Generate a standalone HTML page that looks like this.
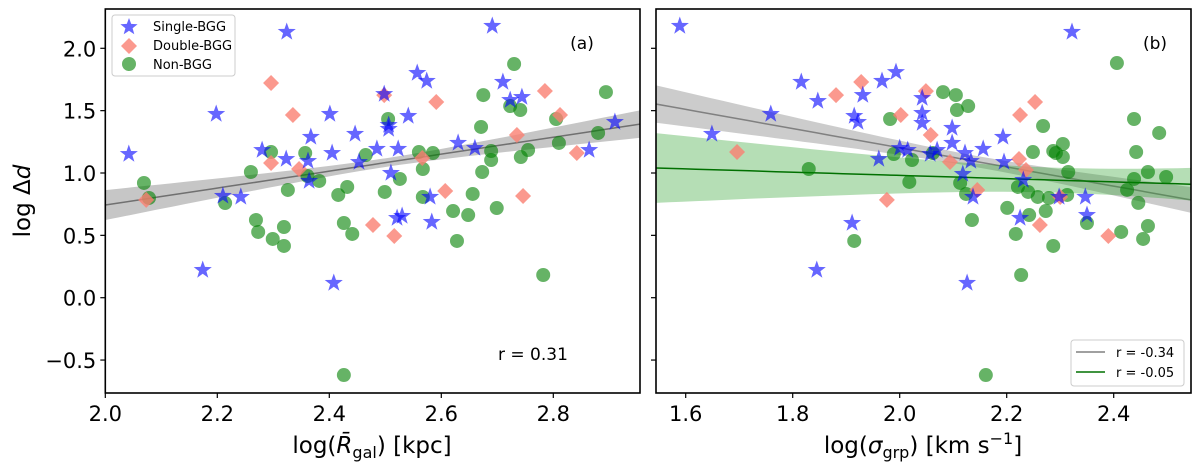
<!DOCTYPE html>
<html><head><meta charset="utf-8"><style>
body{margin:0;background:#fff}
svg{display:block;font-family:"DejaVu Sans","Liberation Sans",sans-serif}
</style></head><body>
<svg id="fig" width="1200" height="472" viewBox="0 0 1200 472" xmlns="http://www.w3.org/2000/svg"></svg>
<script>
// Panel (a) data
const aStarX=[2.042,2.198,2.324,2.401,2.367,2.280,2.323,2.362,2.405,2.364,2.210,2.242,2.174,2.408,2.691,2.557,2.574,2.498,2.541,2.446,2.506,2.506,2.485,2.523,2.453,2.510,2.630,2.660,2.710,2.723,2.744,2.910,2.864,2.580,2.521,2.530,2.583];
const aStarY=[1.152,1.473,2.131,1.473,1.289,1.184,1.112,1.096,1.160,0.936,0.816,0.808,0.222,0.118,2.179,1.802,1.738,1.633,1.457,1.313,1.385,1.353,1.193,1.193,1.088,1.000,1.241,1.200,1.730,1.585,1.609,1.409,1.184,0.808,0.639,0.655,0.607];
const aDiaX=[2.296,2.335,2.296,2.346,2.073,2.498,2.591,2.566,2.607,2.478,2.516,2.735,2.746,2.785,2.812,2.842];
const aDiaY=[1.722,1.465,1.080,1.032,0.784,1.625,1.569,1.120,0.856,0.583,0.495,1.305,0.816,1.658,1.465,1.160];
const aCirX=[2.069,2.078,2.214,2.260,2.296,2.357,2.361,2.382,2.326,2.269,2.273,2.299,2.319,2.319,2.416,2.426,2.426,2.432,2.441,2.730,2.675,2.723,2.741,2.894,2.805,2.671,2.505,2.560,2.585,2.689,2.689,2.742,2.755,2.880,2.810,2.567,2.673,2.465,2.526,2.499,2.567,2.656,2.621,2.648,2.699,2.628,2.782];
const aCirY=[0.920,0.800,0.759,1.008,1.168,1.160,0.976,0.936,0.864,0.623,0.527,0.471,0.567,0.415,0.824,0.599,-0.620,0.888,0.511,1.874,1.625,1.537,1.505,1.649,1.433,1.369,1.433,1.168,1.160,1.176,1.104,1.128,1.184,1.321,1.241,1.032,1.008,1.144,0.952,0.848,0.808,0.832,0.695,0.663,0.719,0.455,0.182];
const aFit=[0.743,0.68,2.5,0.035,0.23];
// Panel (b) data
const bStarX=[1.589,1.816,1.847,1.759,1.649,1.915,1.922,1.967,1.993,1.931,1.961,1.911,1.845,2.322,2.042,2.042,2.042,2.098,2.098,2.193,2.000,2.015,2.070,2.057,2.156,2.122,2.133,2.195,2.118,2.231,2.137,2.225,2.298,2.347,2.350,2.126];
const bStarY=[2.179,1.730,1.577,1.473,1.313,1.457,1.409,1.738,1.809,1.625,1.112,0.599,0.222,2.131,1.601,1.481,1.401,1.361,1.241,1.289,1.200,1.184,1.184,1.152,1.193,1.160,1.096,1.088,0.992,0.944,0.808,0.639,0.808,0.808,0.663,0.118];
const bDiaX=[1.696,1.881,1.928,1.976,2.049,2.002,2.058,2.094,2.225,2.253,2.223,2.236,2.145,2.300,2.262,2.390];
const bDiaY=[1.168,1.625,1.730,0.784,1.657,1.465,1.305,1.088,1.465,1.569,1.112,1.024,0.864,0.808,0.583,0.495];
const bCirX=[1.830,1.982,1.989,1.915,2.081,2.105,2.107,2.128,2.023,2.062,2.018,2.113,2.124,2.135,2.268,2.249,2.305,2.287,2.292,2.305,2.315,2.221,2.240,2.258,2.279,2.313,2.201,2.242,2.273,2.217,2.287,2.227,2.161,2.406,2.438,2.442,2.485,2.464,2.498,2.438,2.425,2.446,2.464,2.414,2.455,2.350];
const bCirY=[1.032,1.433,1.152,0.455,1.649,1.625,1.505,1.537,1.104,1.160,0.928,0.920,0.832,0.623,1.377,1.168,1.233,1.176,1.160,1.128,1.008,0.888,0.848,0.808,0.800,0.824,0.720,0.663,0.695,0.511,0.415,0.182,-0.620,1.882,1.433,1.168,1.321,1.008,0.968,0.952,0.864,0.760,0.575,0.527,0.471,0.599];
const bFitGray=[1.553,-0.769,2.15,0.045,0.236];
const bFitGreen=[1.040,-0.13,2.3,0.10,0.346];
const yTicks=[-0.5,0.0,0.5,1.0,1.5,2.0];
const yTickLabels=["\u22120.5","0.0","0.5","1.0","1.5","2.0"];
const aXTicks=[2.0,2.2,2.4,2.6,2.8];
const bXTicks=[1.6,1.8,2.0,2.2,2.4];

const NS="http://www.w3.org/2000/svg";
const svg=document.getElementById('fig');
function mk(tag,attrs,parent){const e=document.createElementNS(NS,tag);for(const k in attrs)e.setAttribute(k,attrs[k]);(parent||svg).appendChild(e);return e;}
const yS=v=>297.7-124.7*v;
const aX=v=>105.3+(v-2.0)*560;
const bX=v=>685.7+(v-1.6)*535;
const aDom=[2.0,2.955], bDom=[1.544,2.544];

function star(cx,cy,R){let p=[];for(let i=0;i<10;i++){const r=i%2?R*0.4:R;const a=-Math.PI/2+i*Math.PI/5;p.push((cx+r*Math.cos(a)).toFixed(1)+','+(cy+r*Math.sin(a)).toFixed(1));}return p.join(' ');}

function band(g,xs,dom,fit,x0val,fill,line,name){
  const n=40;let up=[],lo=[],ln=[];
  for(let i=0;i<=n;i++){const x=dom[0]+(dom[1]-dom[0])*i/n;const y=fit[0]+fit[1]*(x-x0val);const h=Math.sqrt(fit[3]*fit[3]+fit[4]*fit[4]*(x-fit[2])*(x-fit[2]));
    up.push(xs(x).toFixed(1)+','+yS(y+h).toFixed(1));lo.unshift(xs(x).toFixed(1)+','+yS(y-h).toFixed(1));ln.push(xs(x).toFixed(1)+','+yS(y).toFixed(1));}
  const b=mk('polygon',{points:up.concat(lo).join(' '),fill:fill[0],'fill-opacity':fill[1]},g);
  
  
  const l=mk('polyline',{points:ln.join(' '),fill:'none',stroke:line,'stroke-width':1.5},g);
  
  
}

function points(g,xs,X,Y,type,name){
  for(let i=0;i<X.length;i++){
    const cx=xs(X[i]),cy=yS(Y[i]);let e;
    if(type==='star')e=mk('polygon',{points:star(cx,cy,9.5),fill:'#0000ff','fill-opacity':0.6},g);
    else if(type==='dia')e=mk('polygon',{points:`${cx},${cy-8} ${cx+8},${cy} ${cx},${cy+8} ${cx-8},${cy}`,fill:'#fa8072','fill-opacity':0.8},g);
    else e=mk('circle',{cx:cx,cy:cy,r:7,fill:'#008000','fill-opacity':0.6},g);
    
    
  }
}

function panel(left,right,xs,ticks,id){
  const g=mk('g',{});
  
  
  const clip=mk('clipPath',{id:'clip'+id},g);mk('rect',{x:left,y:9,width:right-left,height:384},clip);
  const inner=mk('g',{'clip-path':'url(#clip'+id+')'},g);
  ticks.forEach(t=>{const x=xs(t);const tk=mk('line',{x1:x,x2:x,y1:393,y2:398,stroke:'#000','stroke-width':1.2},g);
    
    
    const tl=mk('text',{x:x,y:421,'text-anchor':'middle','font-size':21},g);tl.textContent=t.toFixed(1);
    
    });
  yTicks.forEach((t,i)=>{const y=yS(t);const tk=mk('line',{x1:left-5,x2:left,y1:y,y2:y,stroke:'#000','stroke-width':1.2},g);
    
    
    if(id==='a'){const tl=mk('text',{x:left-9,y:y+8,'text-anchor':'end','font-size':21},g);tl.textContent=yTickLabels[i];
      
      }});
  return {g,inner,left,right};
}

const pa=panel(105.3,640,aX,aXTicks,'a');
band(pa.inner,aX,aDom,aFit,2.0,['#808080',0.45],'#707070','panel-a');
points(pa.inner,aX,aCirX,aCirY,'cir','non-bgg-point');
points(pa.inner,aX,aDiaX,aDiaY,'dia','double-bgg-point');
points(pa.inner,aX,aStarX,aStarY,'star','single-bgg-point');
const fa=mk('rect',{x:105.3,y:9,width:534.7,height:384,fill:'none',stroke:'#000','stroke-width':1.6},pa.g);



const pb=panel(656,1191,bX,bXTicks,'b');
band(pb.inner,bX,bDom,bFitGray,1.544,['#808080',0.4],'#808080','gray');
band(pb.inner,bX,bDom,bFitGreen,1.544,['#2ca02c',0.35],'#007000','green');
points(pb.inner,bX,bCirX,bCirY,'cir','non-bgg-point');
points(pb.inner,bX,bDiaX,bDiaY,'dia','double-bgg-point');
points(pb.inner,bX,bStarX,bStarY,'star','single-bgg-point');
const fb=mk('rect',{x:656,y:9,width:535,height:384,fill:'none',stroke:'#000','stroke-width':1.6},pb.g);


</script>
<svg width="1200" height="472" style="position:absolute;left:0;top:0;font-family:'DejaVu Sans','Liberation Sans',sans-serif">
  <g>
    <rect x="112" y="15" width="123" height="61" rx="3" fill="#fff" fill-opacity="0.85" stroke="#ccc" stroke-width="1"/>
    <g>
      <polygon points="129,18 131.2,23.9 137.6,24.2 132.6,28.2 134.3,34.3 129,30.8 123.7,34.3 125.4,28.2 120.4,24.2 126.8,23.9" fill="#0000ff" fill-opacity="0.6"/>
      <text x="153" y="31" font-size="13">Single-BGG</text></g>
    <g>
      <polygon points="129,38 137,46 129,54 121,46" fill="#fa8072" fill-opacity="0.8"/>
      <text x="153" y="50" font-size="13">Double-BGG</text></g>
    <g>
      <circle cx="129" cy="64" r="7" fill="#008000" fill-opacity="0.6"/>
      <text x="153" y="69" font-size="13">Non-BGG</text></g>
  </g>
  <text x="582" y="49" font-size="17" text-anchor="middle">(a)</text>
  <text x="1155" y="49" font-size="17" text-anchor="middle">(b)</text>
  <text x="498" y="360" font-size="17">r = 0.31</text>
  <g>
    <rect x="1071" y="340" width="113" height="46" rx="3" fill="#fff" fill-opacity="0.85" stroke="#ccc" stroke-width="1"/>
    <g>
      <line x1="1076" x2="1105" y1="352" y2="352" stroke="#808080" stroke-width="1.5"/>
      <text x="1116" y="357" font-size="13">r = -0.34</text></g>
    <g>
      <line x1="1076" x2="1105" y1="372" y2="372" stroke="#007000" stroke-width="1.5"/>
      <text x="1116" y="377" font-size="13">r = -0.05</text></g>
  </g>
  <text transform="translate(30,201) rotate(-90)" font-size="23" text-anchor="middle">log Δ<tspan font-style="italic">d</tspan></text>
  <text x="372" y="453" font-size="23" text-anchor="middle">log(<tspan font-style="italic">R̄</tspan><tspan font-size="16" dy="5">gal</tspan><tspan dy="-5">) [kpc]</tspan></text>
  <text x="923" y="453" font-size="23" text-anchor="middle">log(<tspan font-style="italic">σ</tspan><tspan font-size="16" dy="5">grp</tspan><tspan dy="-5">) [km s</tspan><tspan font-size="16" dy="-9">−1</tspan><tspan dy="9">]</tspan></text>
</svg>
</body></html>
